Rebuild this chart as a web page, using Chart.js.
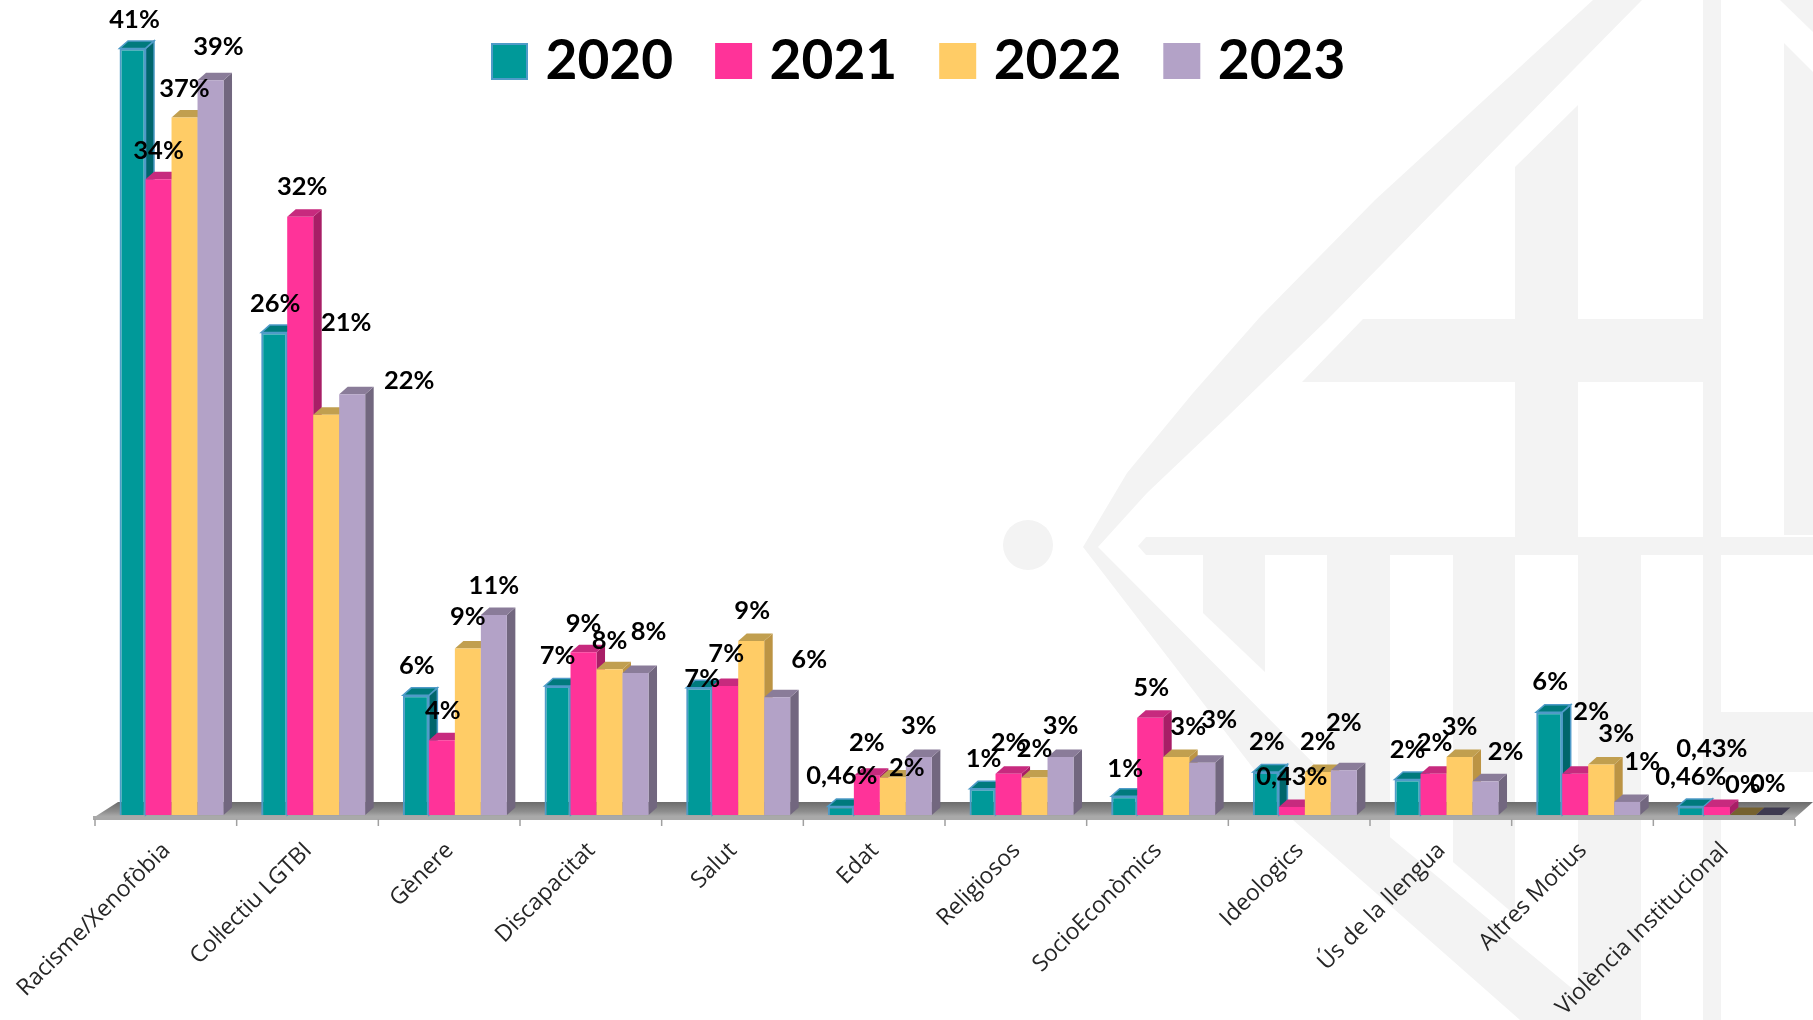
<!DOCTYPE html>
<html lang="ca">
<head>
<meta charset="utf-8">
<title>Motius de discriminació 2020-2023</title>
<script src="https://cdn.jsdelivr.net/npm/chart.js@4/dist/chart.umd.min.js"></script>
<style>
  html, body { margin: 0; padding: 0; background: #fff; overflow: hidden; }
  #wrap { position: relative; width: 1813px; height: 1020px; }
  #wrap svg, #wrap canvas { position: absolute; left: 0; top: 0; }
</style>
</head>
<body>
<div id="wrap">
  <!-- escut de fons, només decoració -->
  <svg width="1813" height="1020" viewBox="0 0 1813 1020" fill="#f3f3f3">
    <polygon points="1593,0 1375,200 1260,317 1193,393 1127,473 1083,547 1293,820 1520,1020 1610,1020 1373,823 1098,547 1147,493 1227,417 1327,320 1445,200 1642,0"/>
    <circle cx="1028" cy="545" r="25"/>
    <polygon points="1138,546 1146,537 1813,537 1813,555 1146,555"/>
    <polygon points="1203,555 1265,555 1265,672 1203,613"/>
    <polygon points="1327,555 1390,555 1390,840 1327,777"/>
    <polygon points="1453,555 1515,555 1515,915 1453,862"/>
    <rect x="1578" y="555" width="63" height="465"/>
    <rect x="1703" y="0" width="18" height="1020"/>
    <polygon points="1302,382 1363,319 1721,319 1721,382"/>
    <polygon points="1515,167 1578,105 1578,538 1515,538"/>
    <polygon points="1780,0 1813,32 1813,0"/>
    <polygon points="1784,43 1813,72 1813,535 1784,535"/>
    <rect x="1721" y="712" width="92" height="60"/>
  </svg>
  <canvas id="chart" width="1813" height="1020"></canvas>
</div>
<script>
(function () {
  'use strict';

  // ── Dades ──
  const categories = ['Racisme/Xenofòbia', 'Col·lectiu LGTBI', 'Gènere', 'Discapacitat', 'Salut', 'Edat',
    'Religiosos', 'SocioEconòmics', 'Ideologics', 'Ús de la llengua', 'Altres Motius', 'Violència Institucional'];
  const years = ['2020', '2021', '2022', '2023'];

  const values2020 = [41, 25.8, 6.4, 6.9, 6.8, 0.46, 1.4, 1, 2.3, 1.9, 5.5, 0.46];
  const values2021 = [34, 32, 4, 8.7, 6.9, 2.1, 2.2, 5.2, 0.43, 2.2, 2.2, 0.43];
  const values2022 = [37.3, 21.4, 8.9, 7.8, 9.3, 2, 2, 3.1, 2.3, 3.1, 2.7, 0];
  const values2023 = [39.3, 22.5, 10.7, 7.6, 6.3, 3.1, 3.1, 2.8, 2.4, 1.8, 0.7, 0];

  const labels2020 = ['41%', '26%', '6%', '7%', '7%', '0,46%', '1%', '1%', '2%', '2%', '6%', '0,46%'];
  const labels2021 = ['34%', '32%', '4%', '9%', '7%', '2%', '2%', '5%', '0,43%', '2%', '2%', '0,43%'];
  const labels2022 = ['37%', '21%', '9%', '8%', '9%', '2%', '2%', '3%', '2%', '3%', '3%', '0%'];
  const labels2023 = ['39%', '22%', '11%', '8%', '6%', '3%', '3%', '3%', '2%', '2%', '1%', '0%'];

  // ── Estil de cada sèrie (davant, lateral, sostre) ──
  const SERIES = [
    { values: values2020, labels: labels2020, front: '#009999', side: '#00666b', top: '#007a7d', border: '#4f9bc8', width: 2 },
    { values: values2021, labels: labels2021, front: '#ff3399', side: '#a81e66', top: '#c72a7e', border: '#ff3399', width: 0 },
    { values: values2022, labels: labels2022, front: '#ffcc66', side: '#bc9444', top: '#c19f4f', zero: '#75612f', border: '#ffcc66', width: 0 },
    { values: values2023, labels: labels2023, front: '#b3a2c7', side: '#72677f', top: '#8a7c99', zero: '#3e3a50', border: '#b3a2c7', width: 0 },
  ];

  // desplaçament manual de cada etiqueta respecte del sostre de la barra
  const LABEL_OFFSETS = [
    [[2, -29], [1, -29], [1, -30], [0, -30], [3, -9], [1, -31], [1, -30], [1, -28], [1, -30], [0, -30], [1, -30], [0, -30]],
    [[0, -28], [2, -30], [1, -29], [0, -29], [1, -32], [0, -33], [0, -31], [1, -30], [0, -30], [1, -31], [16, -62], [-5, -58]],
    [[0, -29], [20, -92], [0, -32], [0, -28], [1, -30], [14, -10], [0, -29], [12, -30], [0, -30], [0, -30], [15, -31], [0, -30]],
    [[8, -33], [57, -14], [0, -29], [13, -41], [32, -37], [0, -31], [0, -31], [17, -43], [0, -47], [20, -30], [15, -40], [-1, -31]],
  ];

  const DEPTH_X = 8.5;
  const DEPTH_Y = 7.5;
  const AXIS_SHIFT = 5.7; // les barres 3D queden una mica a la dreta de les marques

  function poly(ctx, pts, fill, stroke) {
    ctx.beginPath();
    pts.forEach((p, i) => (i ? ctx.lineTo(p[0], p[1]) : ctx.moveTo(p[0], p[1])));
    ctx.closePath();
    ctx.fillStyle = fill;
    ctx.fill();
    if (stroke) {
      ctx.strokeStyle = stroke;
      ctx.lineWidth = 1.5;
      ctx.stroke();
    }
  }

  // ── Terra, marques de l'eix ──
  function drawFloor(chart) {
    const { ctx, chartArea: area, scales: { x } } = chart;
    const step = x.width / categories.length;
    const left = area.left - AXIS_SHIFT;
    const right = left + step * categories.length;
    const base = area.bottom;

    const grad = ctx.createLinearGradient(0, base - 13, 0, base + 3);
    grad.addColorStop(0, '#6c6c6c');
    grad.addColorStop(0.6, '#8e8e8e');
    grad.addColorStop(1, '#b4b4b4');
    poly(ctx, [[left - 2, base + 3], [left + 23, base - 13], [right + 18, base - 13], [right, base + 3]], grad);

    ctx.fillStyle = '#a9a9a9';
    ctx.fillRect(left - 2, base + 1, right - left + 2, 4);

    ctx.strokeStyle = '#a0a0a0';
    ctx.lineWidth = 1.5;
    ctx.beginPath();
    for (let i = 0; i <= categories.length; i++) {
      const tx = left + step * i;
      ctx.moveTo(tx, base + 4);
      ctx.lineTo(tx, base + 11);
    }
    ctx.stroke();
  }

  // ── Cares 3D: s'han de pintar d'esquerra a dreta ──
  const bars3d = {
    id: 'bars3d',
    // la llegenda no ha d'ocupar lloc: els valors arriben fins a dalt
    beforeInit(chart) {
      const fit = chart.legend.fit;
      chart.legend.fit = function () {
        fit.call(this);
        this.height = 0;
      };
    },
    afterLayout(chart) {
      chart.legend.left = 449;
      chart.legend.right = 1813;
      chart.legend.top = -18.5;
      chart.legend.bottom = 120; // el draw retalla a aquesta caixa
    },
    beforeDatasetsDraw(chart) {
      const { ctx } = chart;
      drawFloor(chart);
      SERIES.forEach((s, d) => {
        const meta = chart.getDatasetMeta(d);
        meta.data.forEach((bar, i) => {
          const l = bar.x - bar.width / 2;
          const r = bar.x + bar.width / 2;
          const stroke = s.width ? s.border : null;
          if (s.values[i] === 0) {
            poly(ctx, [[l, bar.y], [l + DEPTH_X, bar.y - DEPTH_Y], [r + DEPTH_X, bar.y - DEPTH_Y], [r, bar.y]], s.zero);
            return;
          }
          poly(ctx, [[r, bar.y], [r + DEPTH_X, bar.y - DEPTH_Y], [r + DEPTH_X, bar.base - DEPTH_Y], [r, bar.base]], s.side, stroke);
          poly(ctx, [[l, bar.y], [l + DEPTH_X, bar.y - DEPTH_Y], [r + DEPTH_X, bar.y - DEPTH_Y], [r, bar.y]], s.top, stroke);
        });
        meta.controller.draw();
      });
      return false;
    },
    afterDraw(chart) {
      const { ctx } = chart;
      ctx.save();
      // vora blava del quadre de 2020 a la llegenda
      ctx.strokeStyle = SERIES[0].border;
      ctx.lineWidth = 2;
      ctx.strokeRect(492, 44, 35, 35);

      ctx.font = 'bold 25.5px Lato';
      ctx.fillStyle = '#000';
      ctx.textAlign = 'center';
      ctx.textBaseline = 'middle';
      SERIES.forEach((s, d) => {
        chart.getDatasetMeta(d).data.forEach((bar, i) => {
          const off = LABEL_OFFSETS[d][i];
          ctx.fillText(s.labels[i], bar.x + off[0], bar.y + off[1]);
        });
      });
      ctx.restore();
    },
  };

  new Chart(document.getElementById('chart'), {
    type: 'bar',
    data: {
      labels: categories,
      datasets: SERIES.map((s, d) => ({
        label: years[d],
        data: s.values,
        backgroundColor: s.front,
        borderColor: s.border,
        borderWidth: s.width,
      })),
    },
    options: {
      responsive: false,
      animation: false,
      devicePixelRatio: 1,
      layout: { padding: { left: 100.7, right: 12.3, top: 11, bottom: 0 } },
      datasets: { bar: { categoryPercentage: 0.734, barPercentage: 1 } },
      plugins: {
        tooltip: { enabled: false },
        legend: {
          position: 'top',
          align: 'start',
          labels: {
            color: '#000',
            font: { family: 'Lato', size: 55, weight: 'bold' },
            boxWidth: 17,
            boxHeight: 16,
            padding: 52,
            // swatch gruixut fet amb el traç, per deixar el text més a prop
            generateLabels(chart) {
              return Chart.defaults.plugins.legend.labels.generateLabels(chart).map(item => ({
                ...item,
                lineWidth: 20,
                strokeStyle: item.fillStyle,
              }));
            },
          },
        },
      },
      scales: {
        x: {
          grid: { display: false },
          border: { display: false },
          afterFit(scale) { scale.height = 205; },
          ticks: {
            autoSkip: false,
            maxRotation: 45,
            minRotation: 45,
            padding: 14,
            labelOffset: -5,
            color: '#262626',
            font: { family: 'Open Sans', size: 23 },
          },
        },
        y: {
          display: false,
          min: 0,
          max: 43,
        },
      },
    },
    plugins: [bars3d],
  });
})();
</script>
</body>
</html>
